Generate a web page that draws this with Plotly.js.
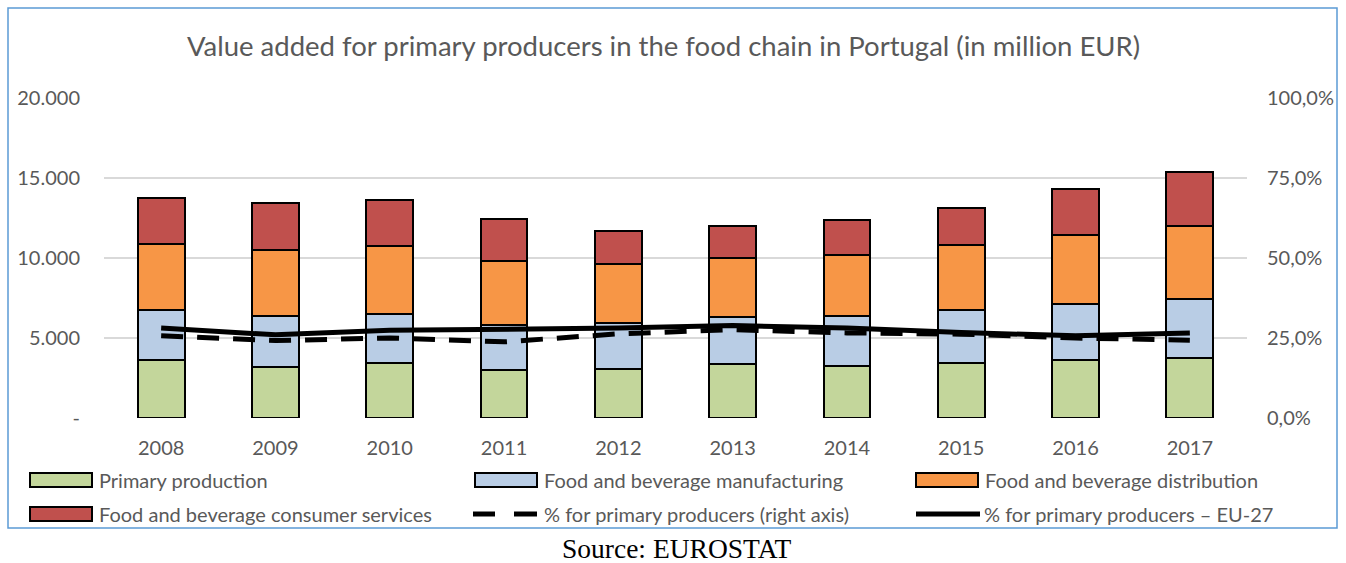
<!DOCTYPE html>
<html>
<head>
<meta charset="utf-8">
<script src="https://cdn.plot.ly/plotly-3.0.1.min.js"></script>
<style>
  html, body { margin: 0; padding: 0; background: #fff; }
  #chart { width: 1346px; height: 563px; }
</style>
</head>
<body>
<div id="chart"></div>
<script>
// ---- data ----
var years = ['2008','2009','2010','2011','2012','2013','2014','2015','2016','2017'];
var primaryProduction   = [3644, 3213, 3413, 2975, 3063, 3375, 3225, 3438, 3644, 3725];
var fbManufacturing     = [3125, 3181, 3106, 2856, 2875, 2956, 3169, 3312, 3481, 3713];
var fbDistribution      = [4125, 4125, 4206, 3957, 3687, 3669, 3812, 4063, 4288, 4562];
var fbConsumerServices  = [2856, 2894, 2900, 2650, 2081, 2000, 2169, 2287, 2875, 3394];
var pctPortugal         = [25.7, 24.2, 25.0, 23.8, 26.3, 27.6, 26.6, 26.2, 25.0, 24.3];
var pctEU27             = [28.1, 26.0, 27.4, 27.8, 28.1, 28.9, 28.1, 26.7, 25.7, 26.6];

var seriesNames = ['Primary production', 'Food and beverage manufacturing', 'Food and beverage distribution',
                   'Food and beverage consumer services', '% for primary producers (right axis)',
                   '% for primary producers \u2013 EU-27'];
var leftTickVals = [0, 5000, 10000, 15000, 20000];
var leftTickText = ['-', '5.000', '10.000', '15.000', '20.000'];
var rightTickVals = [0, 25, 50, 75, 100];
var rightTickText = ['0,0%', '25,0%', '50,0%', '75,0%', '100,0%'];
var chartTitle = 'Value added for primary producers in the food chain in Portugal (in million EUR)';
var sourceText = 'Source: EUROSTAT';

// ---- style ----
var FONT = 'Lato, "Open Sans", sans-serif';
var GRAY = '#595959';
var colors = ['#C3D69B', '#B9CDE5', '#F79646', '#C0504D'];

var W = 1346, H = 563;
var M = {l: 104, r: 99, t: 98, b: 145};
var PW = W - M.l - M.r, PH = H - M.t - M.b;
function px(x) { return (x - M.l) / PW; }
function py(y) { return (H - M.b - y) / PH; }

var barSeries = [primaryProduction, fbManufacturing, fbDistribution, fbConsumerServices];
var traces = [];
barSeries.forEach(function (vals, i) {
  traces.push({
    type: 'bar', x: years, y: vals, name: seriesNames[i],
    marker: {color: colors[i], line: {color: '#000', width: 2}},
    showlegend: false, hoverinfo: 'x+y+name'
  });
});
traces.push({
  type: 'scatter', mode: 'lines', x: years, y: pctPortugal, yaxis: 'y2', name: seriesNames[4],
  line: {color: '#000', width: 5, dash: '22px,14px'}, showlegend: false
});
traces.push({
  type: 'scatter', mode: 'lines', x: years, y: pctEU27, yaxis: 'y2', name: seriesNames[5],
  line: {color: '#000', width: 5}, showlegend: false
});

// custom legend (shapes + annotations)
var shapes = [
  {type: 'rect', xref: 'paper', yref: 'paper', x0: px(8), x1: px(1337), y0: py(528), y1: py(8),
   line: {color: '#5B9BD5', width: 1.5}, fillcolor: 'rgba(0,0,0,0)', layer: 'below'}
];
var annotations = [
  {text: sourceText, xref: 'paper', yref: 'paper', x: px(676), y: py(548), xanchor: 'center', yanchor: 'middle',
   showarrow: false, font: {family: '"Liberation Serif", "Times New Roman", serif', size: 27.5, color: '#000'}}
];
var legendPos = [
  {x: 30, y: 480}, {x: 475, y: 480}, {x: 916, y: 480},
  {x: 30, y: 514}, {x: 475, y: 514}, {x: 916, y: 514}
];
legendPos.forEach(function (p, i) {
  if (i < 4) {
    shapes.push({type: 'rect', xref: 'paper', yref: 'paper', x0: px(p.x), x1: px(p.x + 62),
      y0: py(p.y + 7), y1: py(p.y - 7), fillcolor: colors[i], line: {color: '#000', width: 2}});
  } else if (i === 4) {
    shapes.push({type: 'line', xref: 'paper', yref: 'paper', x0: px(p.x - 2), x1: px(p.x + 20),
      y0: py(p.y), y1: py(p.y), line: {color: '#000', width: 5}});
    shapes.push({type: 'line', xref: 'paper', yref: 'paper', x0: px(p.x + 39), x1: px(p.x + 62),
      y0: py(p.y), y1: py(p.y), line: {color: '#000', width: 5}});
  } else {
    shapes.push({type: 'line', xref: 'paper', yref: 'paper', x0: px(p.x), x1: px(p.x + 64),
      y0: py(p.y), y1: py(p.y), line: {color: '#000', width: 5}});
  }
  annotations.push({text: seriesNames[i], xref: 'paper', yref: 'paper', x: px(p.x + (i === 5 ? 66 : 67)), y: py(p.y),
    xanchor: 'left', yanchor: 'middle', showarrow: false, font: {family: FONT, size: 20, color: GRAY}});
});

var layout = {
  width: W, height: H,
  margin: M,
  paper_bgcolor: '#fff', plot_bgcolor: '#fff',
  font: {family: FONT, color: GRAY, size: 20},
  title: {text: chartTitle, font: {family: FONT, size: 27.5, color: GRAY}, x: 0.493, xanchor: 'center', y: 0.918, yanchor: 'middle'},
  barmode: 'stack', bargap: 0.59,
  showlegend: false,
  xaxis: {type: 'category', showgrid: false, zeroline: false, showline: false, ticks: '',
    ticklabelstandoff: 16, tickfont: {family: FONT, size: 20, color: GRAY}, fixedrange: true},
  yaxis: {range: [0, 20000], tickvals: leftTickVals, ticktext: leftTickText, showgrid: true,
    gridcolor: '#D9D9D9', gridwidth: 1.5, zeroline: false, showline: false, ticks: '',
    ticklabelstandoff: 23, tickfont: {family: FONT, size: 20, color: GRAY}},
  yaxis2: {range: [0, 100], tickvals: rightTickVals, ticktext: rightTickText, overlaying: 'y', side: 'right',
    showgrid: false, zeroline: false, showline: false, ticks: '', ticklabelstandoff: 19,
    tickfont: {family: FONT, size: 20, color: GRAY}},
  shapes: shapes,
  annotations: annotations
};

Plotly.newPlot('chart', traces, layout, {displayModeBar: false, staticPlot: true});
</script>
</body>
</html>
